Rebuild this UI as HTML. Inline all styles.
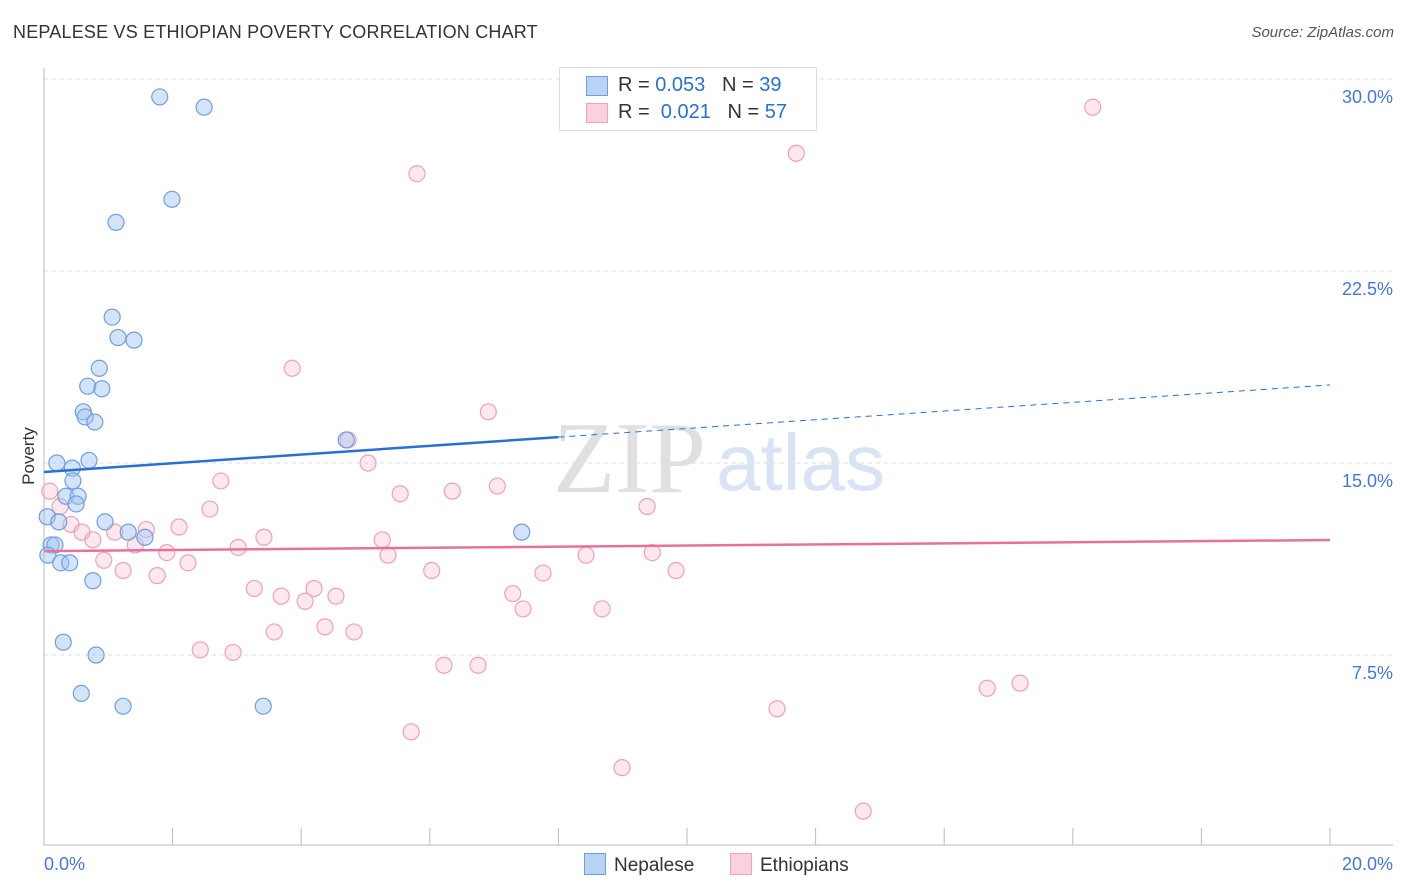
<!DOCTYPE html>
<html><head><meta charset="utf-8">
<style>
body{margin:0;background:#fff;font-family:"Liberation Sans",sans-serif;}
#wrap{position:relative;width:1406px;height:892px;overflow:hidden;}
.t{position:absolute;white-space:nowrap;}
</style></head>
<body>
<div id="wrap">
<div class="t" style="left:13px;top:22px;font-size:18px;color:#333;letter-spacing:0.2px">NEPALESE VS ETHIOPIAN POVERTY CORRELATION CHART</div>
<div class="t" style="right:12px;top:24px;font-size:15px;color:#555;font-style:italic">Source: ZipAtlas.com</div>
<svg id="svg" width="1406" height="892" style="position:absolute;left:0;top:0"></svg>
</div>
<script>
const yTicks=[7.5,15,22.5,30];
const yTickLabels=["7.5%","15.0%","22.5%","30.0%"];
const xTickLabels=["0.0%","20.0%"];
const nepX=[1.80,2.49,1.99,1.12,1.06,1.15,1.40,0.86,0.68,0.90,0.61,0.64,0.79,4.70,0.20,0.70,0.44,0.45,0.34,0.53,0.50,0.05,0.23,0.95,1.31,7.43,1.57,0.11,0.17,0.06,0.26,0.40,0.76,0.30,0.81,0.58,1.23,3.41];
const nepY=[29.3,28.9,25.3,24.4,20.7,19.9,19.8,18.7,18.0,17.9,17.0,16.8,16.6,15.9,15.0,15.1,14.8,14.3,13.7,13.7,13.4,12.9,12.7,12.7,12.3,12.3,12.1,11.8,11.8,11.4,11.1,11.1,10.4,8.0,7.5,6.0,5.5,5.5];
const ethX=[16.31,11.70,5.80,3.86,6.91,4.73,5.04,2.75,7.05,5.54,6.35,9.38,0.09,0.25,2.58,0.42,2.10,0.59,1.59,1.10,0.76,3.42,1.42,3.02,5.26,1.91,5.35,8.43,9.46,0.93,2.24,1.23,1.76,6.03,7.76,9.83,3.27,4.20,3.69,4.06,4.54,7.29,7.45,8.68,3.58,4.37,4.82,2.43,2.94,6.22,6.75,14.67,15.18,11.40,5.71,8.99,12.74];
const ethY=[28.9,27.1,26.3,18.7,17.0,15.9,15.0,14.3,14.1,13.8,13.9,13.3,13.9,13.3,13.2,12.6,12.5,12.3,12.4,12.3,12.0,12.1,11.8,11.7,12.0,11.5,11.4,11.4,11.5,11.2,11.1,10.8,10.6,10.8,10.7,10.8,10.1,10.1,9.8,9.6,9.8,9.9,9.3,9.3,8.4,8.6,8.4,7.7,7.6,7.1,7.1,6.2,6.4,5.4,4.5,3.1,1.4];
const nepTrend=[14.65,18.05];
const ethTrend=[11.56,11.99];
const X=v=>44+v*64.3, Y=v=>847-v*25.6;
const svg=document.getElementById('svg');
const NS='http://www.w3.org/2000/svg';
function mk(tag,attrs,parent){const e=document.createElementNS(NS,tag);for(const k in attrs)e.setAttribute(k,attrs[k]);(parent||svg).appendChild(e);return e;}
yTicks.forEach((t,i)=>{
 const g=mk('line',{x1:44,x2:1393,y1:Y(t),y2:Y(t),stroke:'#ddd','stroke-dasharray':'4,4'});
 
 
 const l=mk('text',{x:1393,y:Y(t)+24,'text-anchor':'end','font-size':18,fill:'#4477dd','font-family':'Liberation Sans'});
 l.textContent=yTickLabels[i];
 
 
});
const ax=mk('line',{x1:44,x2:1393,y1:845,y2:845,stroke:'#bbb'});


const ay=mk('line',{x1:44,x2:44,y1:68,y2:845,stroke:'#bbb'});


for(let k=1;k<=10;k++){const tk=mk('line',{x1:X(k*2),x2:X(k*2),y1:828,y2:845,stroke:'#bbb'});
 
 }
[[0,'start',44],[1,'end',1393]].forEach(([i,a,x])=>{const l=mk('text',{x:x,y:870,'text-anchor':a,'font-size':18,fill:'#4477dd','font-family':'Liberation Sans'});l.textContent=xTickLabels[i];
 
 });
const yt=mk('text',{x:34,y:456,'text-anchor':'middle','font-size':17,fill:'#333','font-family':'Liberation Sans',transform:'rotate(-90 34 456)'});
yt.textContent='Poverty';


const wm=mk('text',{x:553,y:492,'font-size':102,fill:'#e0e0e0','font-family':'Liberation Serif'});wm.textContent='ZIP';


const wm2=mk('text',{x:716,y:490,'font-size':80,fill:'#d8e4f4','font-family':'Liberation Sans'});wm2.textContent='atlas';


ethX.forEach((x,i)=>{const c=mk('circle',{cx:X(x),cy:Y(ethY[i]),r:8,fill:'rgba(248,180,200,0.3)',stroke:'#f0a0b8','stroke-width':1.2});
 
 });
nepX.forEach((x,i)=>{const c=mk('circle',{cx:X(x),cy:Y(nepY[i]),r:8,fill:'rgba(160,195,240,0.45)',stroke:'#6f9ee0','stroke-width':1.2});
 
 });
const bv=x=>nepTrend[0]+(nepTrend[1]-nepTrend[0])*x/20;
const t1=mk('line',{x1:X(0),y1:Y(bv(0)),x2:X(8),y2:Y(bv(8)),stroke:'#2a6fd6','stroke-width':2.5});


const t2=mk('line',{x1:X(8),y1:Y(bv(8)),x2:X(20),y2:Y(bv(20)),stroke:'#2a6fd6','stroke-width':1,'stroke-dasharray':'6,5'});


const t3=mk('line',{x1:X(0),y1:Y(ethTrend[0]),x2:X(20),y2:Y(ethTrend[1]),stroke:'#e8719a','stroke-width':2.5});


</script>
<div class="t" style="left:559px;top:67px;width:256px;height:62px;border:1px solid #ddd;background:#fff;font-size:20px;color:#333">
 <div style="position:absolute;left:26px;top:8px;width:20px;height:18px;background:#b8d2f4;border:1px solid #6f9ee0"></div>
 <div style="position:absolute;left:58px;top:6px">R = <span style="color:#2a6fd6">0.053</span>&nbsp;&nbsp;&nbsp;N = <span style="color:#2a6fd6">39</span></div>
 <div style="position:absolute;left:26px;top:35px;width:20px;height:18px;background:#fcd0dc;border:1px solid #f0a0b8"></div>
 <div style="position:absolute;left:58px;top:33px">R = &nbsp;<span style="color:#2a6fd6">0.021</span>&nbsp;&nbsp;&nbsp;N = <span style="color:#2a6fd6">57</span></div>
</div>
<div class="t" style="left:584px;top:853px;font-size:19px;color:#333">
 <span style="display:inline-block;width:20px;height:20px;background:#b8d2f4;border:1px solid #6f9ee0;vertical-align:-4px;margin-right:8px"></span>Nepalese</div>
<div class="t" style="left:730px;top:853px;font-size:19px;color:#333">
 <span style="display:inline-block;width:20px;height:20px;background:#fcd0dc;border:1px solid #f0a0b8;vertical-align:-4px;margin-right:8px"></span>Ethiopians</div>
</body></html>
